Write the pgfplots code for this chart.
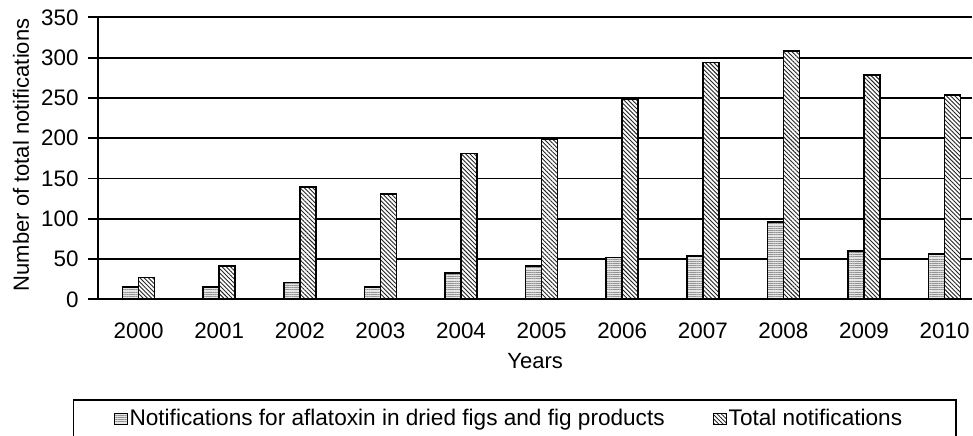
\documentclass[border=0pt]{standalone}
\usepackage{pgfplots}
\pgfplotsset{compat=1.18}
\usetikzlibrary{patterns.meta}
\usepackage{fontspec}
\setmainfont{Liberation Sans}
\begin{document}
\fontsize{11pt}{13pt}\selectfont
\begin{tikzpicture}
\begin{axis}[
  at={(49.15pt,-149.65pt)}, anchor=south west,
  scale only axis, width=436.85pt, height=141pt,
  xmin=-0.5, xmax=10.34, ymin=0, ymax=350,
  ybar=0pt, bar width=8pt,
  axis x line*=bottom, axis y line*=left,
  axis line style={line width=0.9pt, -},
  ytick={0,50,...,350},
  xtick={0,...,10},
  xticklabels={2000,2001,2002,2003,2004,2005,2006,2007,2008,2009,2010},
  x tick style={draw=none},
  y tick style={black, line width=0.9pt},
  tick align=outside, major tick length=5pt,
  ymajorgrids, major grid style={black, line width=0.9pt},
  /pgf/number format/assume math mode=true,
  tick label style={font=\fontsize{11.2pt}{13pt}\selectfont},
  xticklabel style={yshift=-3pt},
  yticklabel style={xshift=-1pt},
  xlabel={Years}, ylabel={Number of total notifications},
  label style={font=\fontsize{11pt}{13pt}\selectfont},
  xlabel style={at={(axis description cs:0.5,-0.219)}, anchor=center},
  ylabel style={at={(axis description cs:-0.0885,0.512)}, anchor=center},
  legend style={at={(axis description cs:0.9828,-0.355)}, anchor=north east,
    draw=black, line width=0.9pt, font=\fontsize{11.3pt}{13pt}\selectfont,
    inner xsep=20pt, inner ysep=2.5pt,
    nodes={inner xsep=1pt, inner ysep=2pt}},
  legend columns=2,
  legend cell align=left,
  /tikz/every even column/.append style={column sep=23pt},
  legend image code/.code={\draw[#1, line width=0.5pt] (0pt,-2.7pt) rectangle (6.5pt,2.7pt);},
]
\addplot[draw=black, line width=0.85pt, fill=gray!20,
  postaction={pattern={Lines[angle=0,distance=1.1pt,line width=0.35pt]}, pattern color=gray!85}]
  coordinates {(0,15) (1,15) (2,21) (3,15) (4,33) (5,41) (6,52) (7,54) (8,96) (9,60) (10,56)};
\addplot[draw=black, line width=0.85pt, fill=white,
  postaction={pattern={Lines[angle=-45,distance=1.5pt,line width=0.45pt]}, pattern color=black!85}]
  coordinates {(0,27) (1,41) (2,139) (3,131) (4,181) (5,199) (6,249) (7,294) (8,308) (9,278) (10,254)};
\legend{Notifications for aflatoxin in dried figs and fig products, Total notifications\rule{6pt}{0pt}}
\end{axis}
\pgfresetboundingbox
\path[use as bounding box] (0pt,0pt) rectangle (486.5pt,-217.5pt);
\end{tikzpicture}
\end{document}
